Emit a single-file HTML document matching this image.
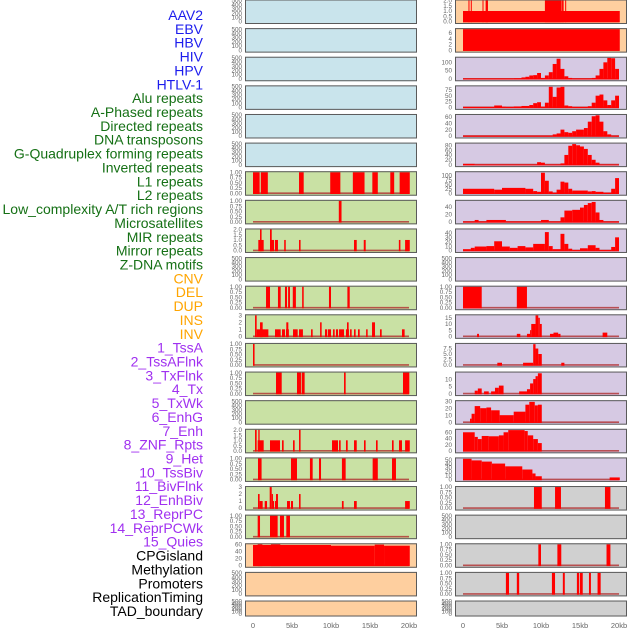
<!DOCTYPE html>
<html><head><meta charset="utf-8">
<style>
html,body{margin:0;padding:0;background:#fff;}
svg{display:block;font-family:"Liberation Sans",sans-serif;}
</style></head>
<body>
<svg id="chart" width="630" height="630" viewBox="0 0 630 630"></svg>
<script>
// ---- labels ----
const labelNames = ["AAV2","EBV","HBV","HIV","HPV","HTLV-1","Alu repeats","A-Phased repeats","Directed repeats","DNA transposons","G-Quadruplex forming repeats","Inverted repeats","L1 repeats","L2 repeats","Low_complexity A/T rich regions","Microsatellites","MIR repeats","Mirror repeats","Z-DNA motifs","CNV","DEL","DUP","INS","INV","1_TssA","2_TssAFlnk","3_TxFlnk","4_Tx","5_TxWk","6_EnhG","7_Enh","8_ZNF_Rpts","9_Het","10_TssBiv","11_BivFlnk","12_EnhBiv","13_ReprPC","14_ReprPCWk","15_Quies","CPGisland","Methylation","Promoters","ReplicationTiming","TAD_boundary"];
const labelGroups = [6,13,5,15,5];
const groupColors = ["#1c1ced","#157015","#ffa500","#a030f0","#000000"];

// ---- x axis ----
const xTicks = [0,5,10,15,20];
const xTickLabels = ["0","5kb","10kb","15kb","20kb"];

// ---- tick sets ----
const tEmpty = [0,100,200,300,400,500];
const tEmptyL = ["0","100","200","300","400","500"];
const t01 = [0,0.25,0.5,0.75,1];
const t01L = ["0.00","0.25","0.50","0.75","1.00"];
const t02 = [0,0.5,1,1.5,2];
const t02L = ["0.0","0.5","1.0","1.5","2.0"];
const t03 = [0,1,2,3];
const t03L = ["0","1","2","3"];

// ---- series: [startKb, endKb, value] ----
const L_alu = [[0,0.85,1],[1.0,1.9,1],[5.9,6.5,1],[9.9,11.2,1],[12.8,14.3,1],[15.3,16.0,1],[17.6,18.1,1],[18.8,20.1,1]];
const L_aphased = [[11.0,11.35,1]];
const L_directed = [[0.68,1.37,1],[0.9,1.1,2],[2.18,2.7,1],[2.18,2.4,2],[2.82,3.2,1],[4.0,4.2,1],[5.9,6.1,1],[12.95,13.3,1],[14.2,14.45,1],[18.7,18.9,1],[19.5,20.1,1]];
const L_gquad = [[1.67,2.18,1],[3.2,3.55,1],[4.1,4.36,1],[4.5,4.74,1],[5.1,5.5,1],[6.3,6.5,1],[9.74,10.0,1],[12.1,12.4,1]];
const L_inverted = [[0.26,0.47,3],[0.47,1.97,1],[0.9,1.24,2],[2.82,3.55,1],[3.72,4.1,1],[4.23,4.6,1],[4.27,4.53,2],[5.13,5.73,1],[5.9,6.4,1],[7.44,7.65,1],[8.6,8.8,2],[9.23,9.5,1],[9.6,10.0,1],[10.26,10.47,1],[10.64,10.9,1],[11.03,11.67,1],[11.92,12.3,1],[12.05,12.26,2],[12.44,12.65,1],[12.95,13.16,1],[13.46,13.68,1],[14.5,14.7,1],[15.26,15.64,2],[16.28,16.5,1],[19.1,19.44,1]];
const L_l1 = [[0,0.2,1]];
const L_l2 = [[2.95,3.68,1],[5.64,6.15,1],[6.24,6.62,1],[11.67,11.88,1],[19.23,20.04,1]];
const L_micro = [[0.26,0.47,2],[0.6,1.37,1],[0.68,0.85,2],[2.18,3.46,1],[3.72,3.93,1],[5.13,5.34,1],[5.9,6.1,2],[10.13,10.9,1],[11.03,11.24,1],[11.92,12.14,1],[12.95,13.3,1],[14.23,14.44,1],[15.77,15.98,1],[17.82,18.03,1],[18.72,19.1,1],[19.5,20.1,1]];
const L_mir = [[0.64,1.1,1],[4.87,5.64,1],[7.3,7.65,1],[8.46,8.72,1],[11.4,11.88,1],[15.34,16.0,1],[17.82,18.33,1]];
const L_mirror = [[0.64,0.85,2],[0.85,1.24,1],[1.5,1.8,1],[2.14,2.4,3],[2.4,2.56,2],[2.56,2.7,1],[2.82,3.2,1],[2.95,3.2,2],[4.36,4.74,1],[4.87,5.13,1],[5.9,6.1,2],[11.4,11.62,1],[12.95,13.3,1],[19.5,20.1,1]];
const L_zdna = [[0.6,0.9,1],[2.18,3.16,1],[3.46,3.97,1],[4.27,4.74,1]];
const L_cnv = [[0,10,58],[0.6,1.2,60],[2.3,3.5,60],[10,15.6,56],[15.6,16.8,59],[16.8,20.1,56]];
const R_ins = [[0,20.1,1],[0.7,0.8,2],[1.0,1.1,2],[2.5,2.6,2],[2.9,3.2,2],[10.5,12.65,2],[12.7,12.9,2],[13.1,13.2,2]];
const R_inv = [[0,20.1,7.3]];
const R_tssa = [[0,6.5,2],[6.5,7.5,3],[7.5,8,8],[8,8.5,12],[8.5,9,20],[9,9.5,22],[9.5,10,35],[10,10.5,5],[10.5,11,20],[11,11.5,40],[11.5,12,90],[12,12.5,122],[12.5,13,60],[13,13.5,15],[13.5,14,5],[14,16.5,2],[16.5,17,5],[17,17.5,20],[17.5,18,60],[18,18.5,100],[18.5,19,127],[19,19.5,125],[19.5,20,60]];
const R_tssaflnk = [[0,4,2],[4,5,8],[5,5.5,3],[5.5,6.5,2],[6.5,7.5,4],[7.5,8.5,6],[8.5,9,10],[9,9.5,18],[9.5,10,22],[10,10.5,3],[10.5,11,20],[11,11.5,88],[11.5,12,45],[12,12.5,85],[12.5,13,88],[13,13.5,8],[13.5,14,5],[14,16,2],[16,16.5,5],[16.5,17,20],[17,17.5,50],[17.5,18,55],[18,18.5,30],[18.5,19,10],[19,19.5,30],[19.5,20,50]];
const R_txflnk = [[0,11.5,1],[11.5,12,5],[12,12.5,8],[12.5,13,20],[13,13.5,12],[13.5,14,10],[14,14.5,15],[14.5,15.5,20],[15.5,16,25],[16,16.5,45],[16.5,17,62],[17,17.5,65],[17.5,18,45],[18,18.5,15],[18.5,19,5],[19,20,1]];
const R_tx = [[0,1.5,3],[1.5,9.5,0.5],[9.5,10,10],[10,10.5,8],[10.5,12.5,0.5],[12.5,13,5],[13,13.5,40],[13.5,14,78],[14,14.5,85],[14.5,15,80],[15,15.5,75],[15.5,16,65],[16,16.5,40],[16.5,17,20],[17,17.5,8],[17.5,20,0.5]];
const R_txwk = [[0,4,25],[4,5,20],[5,8,30],[8,9,25],[9,9.5,12],[9.5,10,8],[10,10.5,115],[10.5,11,70],[11,11.5,10],[11.5,12,3],[12,12.5,20],[12.5,13,65],[13,13.5,60],[13.5,14,25],[14,16,15],[16,16.5,10],[16.5,17,12],[17,18,8],[18,19,3],[19,19.5,25],[19.5,20,85]];
const R_enhg = [[0,1.5,1],[1.5,2,5],[2,3,1],[3,5.5,5],[5.5,10,1],[10,11,5],[11,12.5,1],[12.5,13,12],[13,14,30],[14,15,32],[15,15.5,38],[15.5,16,45],[16,16.5,50],[16.5,17,53],[17,17.5,25],[17.5,18,5],[18,20,1]];
const R_enh = [[0,1,3],[1,1.5,6],[1.5,3,9],[3,4,10],[4,5,21],[5,6,9],[6,7,6],[7,8,10],[8,9,7],[9,10.5,15],[10.5,11,42],[11,11.5,10],[11.5,12.5,3],[12.5,13,38],[13,13.5,15],[13.5,14,4],[14,15,1],[15,16,5],[16,17,12],[17,17.5,6],[17.5,19,1],[19,19.5,8],[19.5,20,30]];
const R_het = [[0,2.4,1],[6.9,8.2,1]];
const R_tssbiv = [[1.8,2.05,2],[6.9,7.35,2],[8.2,8.6,2],[8.6,8.75,5],[8.75,9.3,10],[9.3,9.65,17],[9.65,9.85,15],[9.85,10.1,10],[11.15,11.6,2],[11.6,12.2,3],[12.2,12.5,2],[17.9,18.5,3]];
const R_bivflnk = [[4.4,5,1],[7.7,9,1],[9,9.3,9.5],[9.3,9.65,7.5],[9.65,10.1,5],[12.6,13,1]];
const R_enhbiv = [[1.5,1.9,2],[1.9,2.4,3.5],[2.7,3.3,1.5],[3.6,4.1,1.5],[4.1,4.6,4],[4.6,5.2,5.5],[7.2,8.2,1.5],[8.2,8.6,3],[8.6,9.0,7],[9.0,9.3,10],[9.3,9.6,12],[9.6,10.1,14]];
const R_reprpc = [[0.9,1.1,5],[1.1,1.5,12],[1.5,2.2,23],[2.2,3.0,20],[3.0,3.6,21],[3.6,4.7,17],[4.7,6.5,10],[6.5,8.0,15],[8.0,8.5,25],[8.5,9.2,29],[9.2,9.6,24],[9.6,10.1,25]];
const R_reprpcwk = [[0,1.5,60],[1.5,1.9,45],[1.9,2.4,38],[2.4,3.3,48],[3.3,4.6,47],[4.6,5.2,50],[5.2,5.8,60],[5.8,7.9,67],[7.9,8.3,64],[8.3,9.0,50],[9.0,9.6,38],[9.6,10.1,25]];
const R_quies = [[0,1.1,52],[1.1,2.4,48],[2.4,3.7,45],[3.7,5.4,40],[5.4,7.6,33],[7.6,8.9,25],[8.9,9.3,15],[9.3,10.1,8],[18.8,20.1,5]];
const R_cpg = [[9.1,10.1,1],[11.8,12.56,1],[18.2,18.9,1]];
const R_prom = [[9.66,10.0,1],[12.1,12.6,1],[18.4,18.9,1]];
const R_rept = [[5.5,5.9,1],[6.9,7.2,1],[11.4,11.8,1],[12.8,13.05,1],[14.6,14.9,1],[15.0,15.35,1],[16.15,16.4,1],[17.25,17.65,1]];

const BLUE="#c9e4ec", GREEN="#c9e1a4", ORANGE="#fecf9f", PURPLE="#d6c9e3", GRAY="#d0d0d0";
const panels = [
 [0,0,BLUE,null,tEmpty,tEmptyL,500,"aav2"],[0,1,BLUE,null,tEmpty,tEmptyL,500,"ebv"],[0,2,BLUE,null,tEmpty,tEmptyL,500,"hbv"],
 [0,3,BLUE,null,tEmpty,tEmptyL,500,"hiv"],[0,4,BLUE,null,tEmpty,tEmptyL,500,"hpv"],[0,5,BLUE,null,tEmpty,tEmptyL,500,"htlv1"],
 [0,6,GREEN,L_alu,t01,t01L,1,"alu"],[0,7,GREEN,L_aphased,t01,t01L,1,"a-phased"],[0,8,GREEN,L_directed,t02,t02L,2,"directed"],
 [0,9,GREEN,null,tEmpty,tEmptyL,500,"dna-transposons"],[0,10,GREEN,L_gquad,t01,t01L,1,"g-quadruplex"],[0,11,GREEN,L_inverted,t03,t03L,3,"inverted"],
 [0,12,GREEN,L_l1,t01,t01L,1,"l1"],[0,13,GREEN,L_l2,t01,t01L,1,"l2"],[0,14,GREEN,null,tEmpty,tEmptyL,500,"low-complexity"],
 [0,15,GREEN,L_micro,t02,t02L,2,"microsatellites"],[0,16,GREEN,L_mir,t01,t01L,1,"mir"],[0,17,GREEN,L_mirror,t03,t03L,3,"mirror"],
 [0,18,GREEN,L_zdna,t01,t01L,1,"z-dna"],[0,19,ORANGE,L_cnv,[0,20,40,60],["0","20","40","60"],60,"cnv"],
 [0,20,ORANGE,null,tEmpty,tEmptyL,500,"del"],[0,21,ORANGE,null,tEmpty,tEmptyL,500,"dup"],
 [1,0,ORANGE,R_ins,t02,t02L,2,"ins"],[1,1,ORANGE,R_inv,[0,2,4,6],["0","2","4","6"],7.3,"inv"],
 [1,2,PURPLE,R_tssa,[0,50,100],["0","50","100"],128,"tssa"],[1,3,PURPLE,R_tssaflnk,[0,25,50,75],["0","25","50","75"],90,"tssaflnk"],
 [1,4,PURPLE,R_txflnk,[0,20,40,60],["0","20","40","60"],66,"txflnk"],[1,5,PURPLE,R_tx,[0,20,40,60,80],["0","20","40","60","80"],87,"tx"],
 [1,6,PURPLE,R_txwk,[0,25,50,75,100],["0","25","50","75","100"],118,"txwk"],[1,7,PURPLE,R_enhg,[0,20,40],["0","20","40"],56,"enhg"],
 [1,8,PURPLE,R_enh,[0,10,20,30,40],["0","10","20","30","40"],48,"enh"],[1,9,PURPLE,null,tEmpty,tEmptyL,500,"znf"],
 [1,10,PURPLE,R_het,t01,t01L,1,"het"],[1,11,PURPLE,R_tssbiv,[0,5,10,15],["0","5","10","15"],17,"tssbiv"],
 [1,12,PURPLE,R_bivflnk,[0,2.5,5,7.5],["0.0","2.5","5.0","7.5"],9.6,"bivflnk"],[1,13,PURPLE,R_enhbiv,[0,5,10],["0","5","10"],14.5,"enhbiv"],
 [1,14,PURPLE,R_reprpc,[0,10,20,30],["0","10","20","30"],30,"reprpc"],[1,15,PURPLE,R_reprpcwk,[0,20,40,60],["0","20","40","60"],68,"reprpcwk"],
 [1,16,PURPLE,R_quies,[0,10,20,30,40,50],["0","10","20","30","40","50"],53,"quies"],[1,17,GRAY,R_cpg,t01,t01L,1,"cpgisland"],
 [1,18,GRAY,null,tEmpty,tEmptyL,500,"methylation"],[1,19,GRAY,R_prom,t01,t01L,1,"promoters"],
 [1,20,GRAY,R_rept,t01,t01L,1,"replication-timing"],[1,21,GRAY,null,tEmpty,tEmptyL,500,"tad-boundary"]
];

const NS="http://www.w3.org/2000/svg";
const svg=document.getElementById('chart');
function mk(tag,attrs,parent){const e=document.createElementNS(NS,tag);for(const k in attrs)e.setAttribute(k,attrs[k]);(parent||svg).appendChild(e);return e;}
function xs(col,kb){return (col?463:253)+kb*7.8;}
function rowTop(r){return -0.5+28.62*r;}
function rowH(r){return r===21?16:24.5;}

let li=0;
labelGroups.forEach((n,g)=>{for(let k=0;k<n;k++){
  const t=mk('text',{x:203,y:20+li*13.86,'text-anchor':'end','font-size':'14',fill:groupColors[g]});
  t.textContent=labelNames[li];
  
  
  li++;
}});

panels.forEach(p=>{
  const [col,row,bg,data,ticks,tickL,ymax,name]=p;
  const g=mk('g',{});
  
  
  const px=col?455:245, pw=172, top=rowTop(row), h=rowH(row);
  const bgR=mk('rect',{x:px,y:top,width:pw,height:h,fill:bg},g);
  
  
  const y0=top+h-2.5, yT=top+1;
  const ys=v=>y0-v/ymax*(y0-yT);
  if(data){
    const base=mk('line',{x1:xs(col,0),x2:xs(col,20),y1:y0,y2:y0,stroke:'#b03030','stroke-width':1.6,'stroke-opacity':0.8},g);
    
    
    data.forEach(d=>{
      const x1=xs(col,d[0]),x2=xs(col,d[1]),yv=ys(d[2]);
      const b=mk('rect',{x:x1,y:yv,width:Math.max(x2-x1,1),height:y0-yv+0.8,fill:'#ff0000'},g);
      
      
    });
  }
  const br=mk('rect',{x:px+0.5,y:top+0.5,width:pw-1,height:h-1,fill:'none',stroke:'#5a5a5a','stroke-width':1},g);
  
  
  ticks.forEach((tv,i)=>{
    const t=mk('text',{x:px-3,y:ys(tv)+2.2,'text-anchor':'end','font-size':'6.3',fill:'#666'},g);
    t.textContent=tickL[i];
    
    
  });
});

[0,1].forEach(col=>{
  xTicks.forEach((v,i)=>{
    const t=mk('text',{x:xs(col,v),y:628,'text-anchor':'middle','font-size':'7.5',fill:'#666'});
    t.textContent=xTickLabels[i];
    
    
  });
});
</script>
</body></html>
